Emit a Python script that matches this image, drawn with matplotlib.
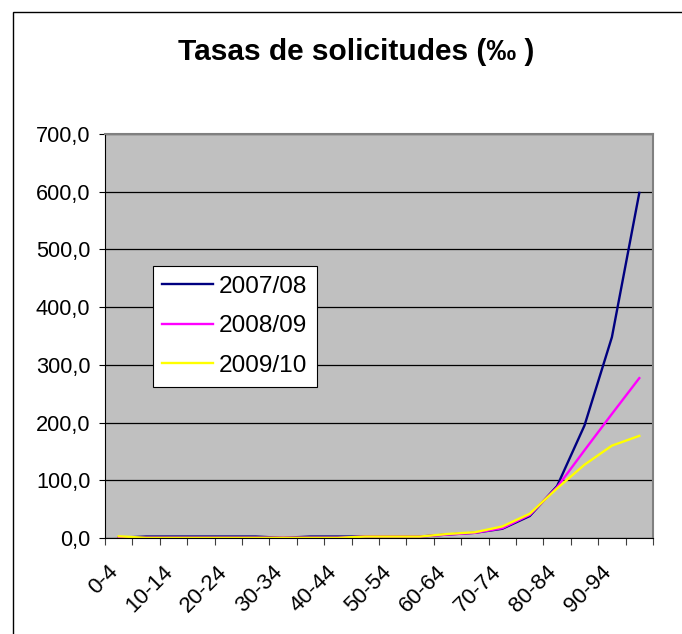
import matplotlib
matplotlib.use("Agg")
import matplotlib.pyplot as plt
from matplotlib.patches import Rectangle
from matplotlib.ticker import FuncFormatter
import numpy as np

# age groups and rates per thousand
age_groups = ['0-4', '5-9', '10-14', '15-19', '20-24', '25-29', '30-34', '35-39', '40-44', '45-49',
              '50-54', '55-59', '60-64', '65-69', '70-74', '75-79', '80-84', '85-89', '90-94', '95-99']
rates_0708 = [0.5, 2.5, 2.5, 2.5, 2.5, 2.5, 0.3, 2.5, 2.5, 2.5,
              2.5, 2.5, 6, 9, 16, 38, 90, 195, 348, 598]
rates_0809 = [0.0, 0.5, 0.5, 0.5, 0.5, 0.5, 0.5, 0.5, 0.5, 2.5,
              2.5, 2.5, 6, 9, 17, 40, 88, 152, 215, 277]
rates_0910 = [3.0, 0.3, 0.3, 0.3, 0.3, 0.3, 0.3, 0.3, 0.3, 2.5,
              2.5, 2.5, 7, 10, 20, 42, 86, 127, 160, 177]
series_labels = ['2007/08', '2008/09', '2009/10']
series_colors = ['#000080', '#FF00FF', '#FFFF00']

plt.rcParams['font.family'] = ['Liberation Sans', 'DejaVu Sans']

W, H = 682, 634
fig = plt.figure(figsize=(W / 100, H / 100), dpi=100)

# chart area border (Excel style, runs off the right/bottom edge)
fig.patches.append(Rectangle((13 / W, -0.05), 1.2, 1 - 12 / H + 0.05, transform=fig.transFigure,
                             fill=False, edgecolor='black', linewidth=1.0))

# plot area in pixels: left 105, right 653, top 134, bottom 538
ax = fig.add_axes([105 / W, 1 - 538 / H, (653 - 105) / W, (538 - 134) / H])
ax.set_facecolor('#C0C0C0')

x = np.arange(len(age_groups))
for vals, lab, col in zip([rates_0708, rates_0809, rates_0910], series_labels, series_colors):
    ax.plot(x, vals, color=col, linewidth=1.7, label=lab)

ax.set_xlim(-0.5, len(age_groups) - 0.5)
ax.set_ylim(0, 700)
ax.set_yticks(np.arange(0, 701, 100))
ax.yaxis.set_major_formatter(FuncFormatter(lambda v, p: f'{v:.1f}'.replace('.', ',')))
ax.grid(axis='y', color='black', linewidth=0.9)
ax.set_axisbelow(True)

# x ticks at category boundaries, labels on every other category center
ax.set_xticks(np.arange(-0.5, len(age_groups), 1.0))
ax.set_xticklabels([])
ax.set_xticks(x[::2], minor=True)
ax.set_xticklabels(age_groups[::2], minor=True, rotation=45, ha='right', va='baseline',
                   rotation_mode='anchor', fontsize=16)
ax.tick_params(axis='x', which='minor', length=0, pad=25)
ax.tick_params(axis='x', which='major', length=5, direction='out', color='#404040')
ax.tick_params(axis='y', length=4.5, direction='out', labelsize=15.7, pad=6)

for side in ['top', 'right']:
    ax.spines[side].set_color('#808080')
    ax.spines[side].set_linewidth(1.5)
ax.spines['left'].set_color('black')
ax.spines['bottom'].set_color('black')

fig.text(356 / W, 1 - 51.5 / H, 'Tasas de solicitudes (‰ )', ha='center', va='center',
         fontsize=21.5, fontweight='bold')

leg = ax.legend(loc='upper left', bbox_to_anchor=(152.7 / W, 1 - 265.7 / H), bbox_transform=fig.transFigure,
                borderaxespad=0, fontsize=17.6, frameon=True, fancybox=False, edgecolor='black',
                facecolor='white', framealpha=1, handlelength=2.05, borderpad=0.4, labelspacing=0.72,
                handletextpad=0.25)
leg.get_frame().set_linewidth(0.8)

fig.savefig('out.png', dpi=100)
